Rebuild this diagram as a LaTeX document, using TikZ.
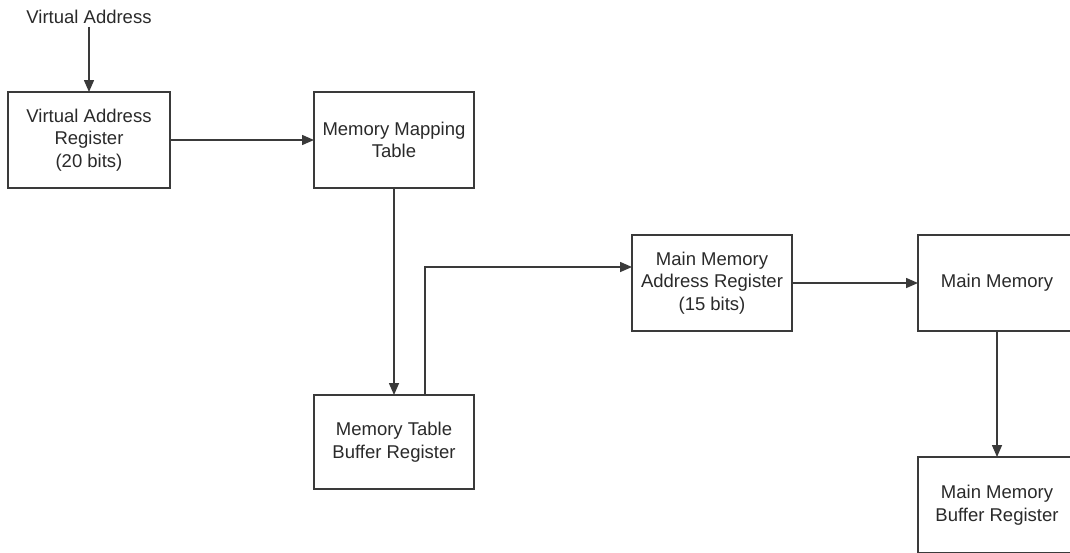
\documentclass[tikz,border=0pt]{standalone}
\usepackage{fontspec}
\setmainfont{Liberation Sans}
\usetikzlibrary{arrows.meta}
\definecolor{linegray}{HTML}{3A3A3A}
\definecolor{textgray}{HTML}{2A2A2A}
\begin{document}
\begin{tikzpicture}[x=1pt,y=-1pt,
  every node/.style={font=\fontsize{18.5}{22.5}\selectfont, text=textgray},
  regbox/.style={draw=linegray, line width=1.5pt, fill=white, align=center,
    inner sep=0pt, outer sep=0pt},
  arr/.style={draw=linegray, line width=1.5pt,
    -{Triangle[length=12pt,width=10pt]}}]
\useasboundingbox (0,0) rectangle (1070,552);
\clip (0,0) rectangle (1070,552);
\fill[white] (0,0) rectangle (1070,552);
\node[inner sep=3pt] (va) at (89,17) {Virtual Address};
\node[regbox, minimum width=162pt, minimum height=96pt] (var) at (89,140)
  {Virtual Address\\Register\\(20 bits)};
\node[regbox, minimum width=160pt, minimum height=96pt] (mmt) at (394,140)
  {Memory Mapping\\Table};
\node[regbox, minimum width=160pt, minimum height=94pt] (mtbr) at (394,442)
  {Memory Table\\Buffer Register};
\node[regbox, minimum width=160pt, minimum height=96pt] (mmar) at (712,283)
  {Main Memory\\Address Register\\(15 bits)};
\node[regbox, minimum width=158pt, minimum height=96pt] (mm) at (997,283)
  {Main Memory};
\node[regbox, minimum width=158pt, minimum height=96pt] (mmbr) at (997,505)
  {Main Memory\\Buffer Register};
\coordinate (turn) at (425,267);
\draw[arr] (va.south) -- (var.north);
\draw[arr] (var) -- (mmt);
\draw[arr] (mmt) -- (mtbr);
\draw[arr] (mtbr.north -| turn) -- (turn) -- (mmar.west |- turn);
\draw[arr] (mmar) -- (mm);
\draw[arr] (mm) -- (mmbr);
\end{tikzpicture}
\end{document}
